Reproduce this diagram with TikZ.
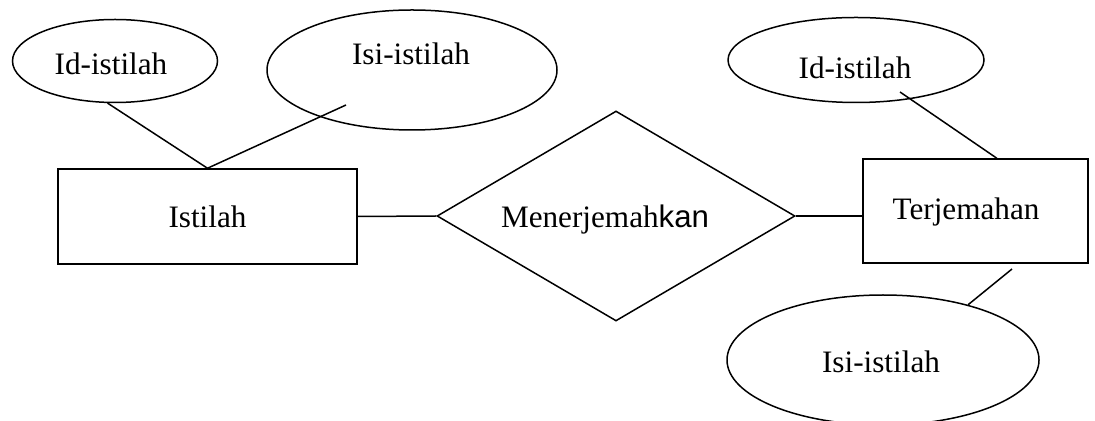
\documentclass[tikz,border=0pt]{standalone}
\usepackage{fontspec}
\setmainfont{Liberation Serif}
\setsansfont{Liberation Sans}
\usetikzlibrary{shapes.geometric}
\tikzset{
  attribute/.style = {draw, ellipse, line width = 0.75pt, inner sep = 0pt},
  entity/.style = {draw, rectangle, line width = 0.75pt, inner sep = 0pt},
  relation/.style = {draw, diamond, line width = 0.75pt, inner sep = 0pt},
  link/.style = {line width = 0.75pt}
}

\begin{document}
\begin{tikzpicture}[x = 0.5pt, y = -0.5pt, font = \fontsize{15.6pt}{18pt}\selectfont]
        \useasboundingbox (0, 0) rectangle (1095, 421);

        % Nodes
        \node [attribute, minimum width = 102.5pt, minimum height = 41.5pt] (idA) at (115, 61) {};
        \node [attribute, minimum width = 145pt, minimum height = 60pt] (isiA) at (412, 70) {};
        \node [entity, minimum width = 149.5pt, minimum height = 47.5pt] (istilah) at (207.5, 216.5) {Istilah};
        \node [relation, minimum width = 179pt, minimum height = 105pt] (men) at (616, 216) {};
        \node [entity, minimum width = 112.5pt, minimum height = 52pt] (terj) at (975.5, 211) {};
        \node [attribute, minimum width = 128pt, minimum height = 42.5pt] (idB) at (856, 60) {};
        \node [attribute, minimum width = 156pt, minimum height = 65pt] (isiB) at (883, 360) {};

        % Texts
        \node (idAtext) at (111, 64) {Id-istilah};
        \node (isiAtext) at (411, 54) {Isi-istilah};
        \node (menText) at (605, 220) {Menerjemah\textsf{kan}};
        \node (terjText) at (966, 212) {Terjemahan};
        \node (idBtext) at (855, 68) {Id-istilah};
        \node (isiBtext) at (881, 362) {Isi-istilah};

        % Draw the links
        \coordinate (isiAfoot) at (346, 105);
        \coordinate (idBfoot) at (900, 92);
        \coordinate (terjFoot) at (1012, 269);
        \draw [link] (idA.-100) -- (istilah.north);
        \draw [link] (isiAfoot) -- (istilah.north);
        \draw [link] (istilah.east) -- (men.west);
        \draw [link] (men.east) -- (men.east -| terj.west);
        \draw [link] (idBfoot) -- (terj.68);
        \draw [link] (terjFoot) -- (isiB.33);

    \end{tikzpicture}
\end{document}
